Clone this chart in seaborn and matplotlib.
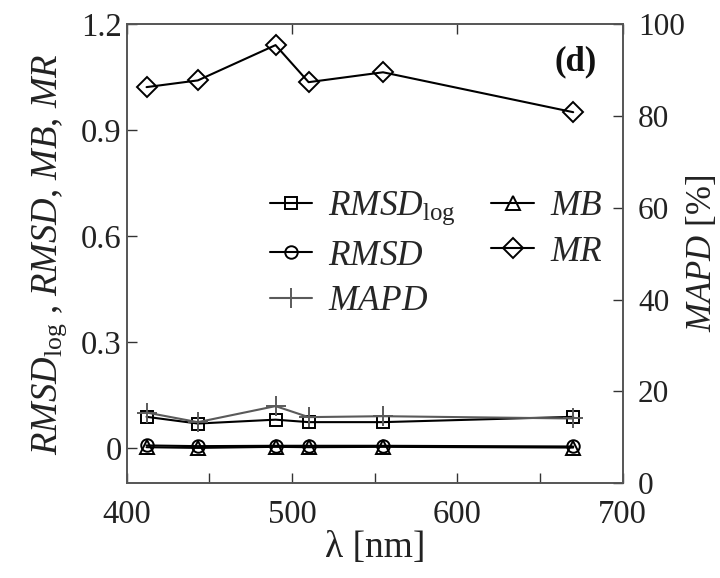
import matplotlib
matplotlib.use('Agg')
import matplotlib.pyplot as plt
import seaborn as sns
import pandas as pd

# wavelengths (nm)
wavelength = [412, 443, 490, 510, 555, 670]

# left axis statistics
rmsd_log = [0.088, 0.069, 0.080, 0.073, 0.073, 0.088]
rmsd = [0.007, 0.005, 0.006, 0.006, 0.006, 0.004]
mb = [0.002, 0.000, 0.003, 0.002, 0.003, 0.001]
mr = [1.022, 1.041, 1.141, 1.036, 1.064, 0.951]

# right axis statistic (%)
mapd = [15.4, 13.3, 16.8, 14.4, 14.6, 14.1]

sns.set_theme(style="ticks")
plt.rcParams['font.family'] = ['Liberation Serif', 'DejaVu Serif']
plt.rcParams['mathtext.fontset'] = 'custom'
plt.rcParams['mathtext.rm'] = 'Liberation Serif'
plt.rcParams['mathtext.it'] = 'Liberation Serif:italic'
plt.rcParams['mathtext.bf'] = 'Liberation Serif:bold'

df = pd.DataFrame({"wl": wavelength, "rmsd_log": rmsd_log, "rmsd": rmsd,
                   "mb": mb, "mr": mr, "mapd": mapd})

fig = plt.figure(figsize=(7.2, 5.78), dpi=100)
ax = fig.add_axes([0.176, 0.164, 0.689, 0.794])
ax2 = ax.twinx()

line_kw = dict(color='black', linewidth=1.5, markerfacecolor='none',
               markeredgecolor='black', markeredgewidth=1.4)

sns.lineplot(data=df, x="wl", y="rmsd_log", ax=ax, marker='s', markersize=9,
             label=r'$\mathit{RMSD}_{\mathrm{log}}$', **line_kw)
sns.lineplot(data=df, x="wl", y="rmsd", ax=ax, marker='o', markersize=9,
             label=r'$\mathit{RMSD}$', **line_kw)
sns.lineplot(data=df, x="wl", y="mb", ax=ax, marker='^', markersize=10,
             label=r'$\mathit{MB}$', **line_kw)
sns.lineplot(data=df, x="wl", y="mr", ax=ax, marker='D', markersize=10,
             label=r'$\mathit{MR}$', **line_kw)
sns.lineplot(data=df, x="wl", y="mapd", ax=ax2, marker='+', markersize=15,
             color='#5a5a5a', linewidth=1.5, markeredgewidth=1.4,
             markeredgecolor='#5a5a5a', label=r'$\mathit{MAPD}$')

ax.set_xlim(400, 700)
ax.set_ylim(-0.1, 1.2)
ax2.set_ylim(0, 100)

ax.set_xticks([400, 500, 600, 700])
ax.set_xticks([450, 550, 650], minor=True)
ax.set_yticks([0, 0.3, 0.6, 0.9, 1.2])
ax.set_yticklabels(['0', '0.3', '0.6', '0.9', '1.2'])
ax2.set_yticks([0, 20, 40, 60, 80, 100])

fs = 23.5
ax.tick_params(axis='both', which='both', direction='in', labelsize=fs,
               colors='#333333', labelcolor='#222222', length=7, width=1)
ax.tick_params(axis='x', which='major', top=True)
ax.tick_params(axis='x', which='minor', top=False, bottom=True, length=7)
ax2.tick_params(axis='y', direction='in', labelsize=22.5, colors='#333333',
                labelcolor='#222222', length=7, width=1, pad=11)
ax.tick_params(axis='x', pad=12)

for a in (ax, ax2):
    for s in a.spines.values():
        s.set_color('#555555')
        s.set_linewidth(1.2)

ax.set_xlabel(r'λ [nm]', fontsize=27, color='#222222', labelpad=0)
ax.set_ylabel(r'$\mathit{RMSD}_{\mathrm{log}}$ , $\mathit{RMSD}$, $\mathit{MB}$, $\mathit{MR}$',
              fontsize=26.5, color='#222222', labelpad=9)
ax2.set_ylabel(r'$\mathit{MAPD}$ [%]', fontsize=25, color='#222222', labelpad=0)

ax.text(0.905, 0.955, '(d)', transform=ax.transAxes, fontsize=25,
        fontweight='bold', ha='center', va='top', color='#111111')

# combined legend, two columns
h1, l1 = ax.get_legend_handles_labels()
h2, l2 = ax2.get_legend_handles_labels()
if ax.get_legend():
    ax.get_legend().remove()
if ax2.get_legend():
    ax2.get_legend().remove()
handles = [h1[0], h1[1], h2[0], h1[2], h1[3]]
labels = [l1[0], l1[1], l2[0], l1[2], l1[3]]
leg = ax2.legend(handles, labels, ncol=2, loc='upper left',
                 bbox_to_anchor=(0.26, 0.67), frameon=False, fontsize=25.5,
                 handlelength=1.2, handletextpad=0.45, columnspacing=1.0,
                 labelspacing=0.35, borderaxespad=0)

fig.savefig('out.png', dpi=100)
